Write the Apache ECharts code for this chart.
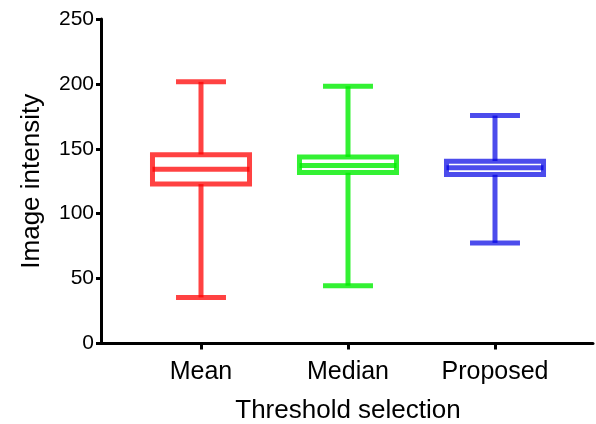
<!DOCTYPE html>
<html>
<head>
<meta charset="utf-8">
<script src="https://cdn.jsdelivr.net/npm/echarts@6/dist/echarts.min.js"></script>
<style>html,body{margin:0;padding:0;background:#fff}#c{width:596px;height:424px}</style>
</head>
<body>
<div id="c"></div>
<script>
const categories = ['Mean', 'Median', 'Proposed'];
const minValues = [35.5, 44.5, 77.5];
const q1Values = [122.8, 131.8, 130.2];
const medianValues = [134.2, 137.2, 135.4];
const q3Values = [145.5, 143.6, 140.4];
const maxValues = [201.6, 198.2, 175.6];
const yMin = 0, yMax = 250, yStep = 50;

const seriesColors = ['rgba(255,0,0,0.74)', 'rgba(0,238,0,0.80)', 'rgba(0,0,228,0.70)'];
const FONT = "'Liberation Sans', Arial, sans-serif";

const boxData = categories.map((c, i) => [i, minValues[i], q1Values[i], medianValues[i], q3Values[i], maxValues[i]]);

function renderItem(params, api) {
  const i = api.value(0);
  const x = api.coord([i, 0])[0];
  const yMn = api.coord([i, api.value(1)])[1];
  const yQ1 = api.coord([i, api.value(2)])[1];
  const yMd = api.coord([i, api.value(3)])[1];
  const yQ3 = api.coord([i, api.value(4)])[1];
  const yMx = api.coord([i, api.value(5)])[1];
  const band = api.size([1, 0])[0];
  const hb = band * 0.33;
  const hc = band * 0.17;
  const style = { stroke: seriesColors[i], lineWidth: 5, fill: null, lineCap: 'butt' };
  const line = (x1, y1, x2, y2) => ({ type: 'line', shape: { x1, y1, x2, y2 }, style });
  return {
    type: 'group',
    children: [
      line(x, yMx, x, yQ3),
      line(x, yQ1, x, yMn),
      line(x - hc, yMx, x + hc, yMx),
      line(x - hc, yMn, x + hc, yMn),
      { type: 'rect', shape: { x: x - hb, y: yQ3, width: hb * 2, height: yQ1 - yQ3 }, style: { stroke: seriesColors[i], lineWidth: 5, fill: '#fff' } },
      line(x - hb, yMd, x + hb, yMd)
    ]
  };
}

const chart = echarts.init(document.getElementById('c'), null, { renderer: 'canvas' });
chart.setOption({
  animation: false,
  backgroundColor: '#fff',
  textStyle: { fontFamily: FONT },
  grid: [
    { left: 101, right: 3, top: 19, bottom: 80.5, containLabel: false, outerBoundsMode: 'none' },
    { left: 127.5, right: 27.5, top: 19, bottom: 80.5, containLabel: false, outerBoundsMode: 'none' }
  ],
  xAxis: [
    { type: 'value', gridIndex: 0, min: 0, max: 1, axisLine: { show: true, lineStyle: { color: '#000', width: 3 } }, axisTick: { show: false }, axisLabel: { show: false }, splitLine: { show: false } },
    { type: 'category', gridIndex: 1, data: categories, boundaryGap: true,
      axisLine: { show: false },
      axisTick: { show: true, alignWithLabel: true, length: 6, lineStyle: { color: '#000', width: 3 } },
      axisLabel: { color: '#000', fontSize: 25, fontFamily: FONT, margin: 16 },
      name: 'Threshold selection', nameLocation: 'middle', nameGap: 54,
      nameTextStyle: { color: '#000', fontSize: 26, fontFamily: FONT } }
  ],
  yAxis: [
    { type: 'value', gridIndex: 0, min: yMin, max: yMax, interval: yStep,
      axisLine: { show: true, lineStyle: { color: '#000', width: 3 } },
      axisTick: { show: true, length: 5, lineStyle: { color: '#000', width: 3 } },
      axisLabel: { color: '#000', fontSize: 21, fontFamily: FONT, margin: 7 },
      splitLine: { show: false },
      name: 'Image intensity', nameLocation: 'middle', nameGap: 56,
      nameTextStyle: { color: '#000', fontSize: 26, fontFamily: FONT } },
    { type: 'value', gridIndex: 1, min: yMin, max: yMax, interval: yStep, show: false, splitLine: { show: false } }
  ],
  series: [{
    type: 'custom',
    xAxisIndex: 1, yAxisIndex: 1,
    renderItem: renderItem,
    encode: { x: 0, y: [1, 2, 3, 4, 5] },
    data: boxData
  }]
});
</script>
</body>
</html>
